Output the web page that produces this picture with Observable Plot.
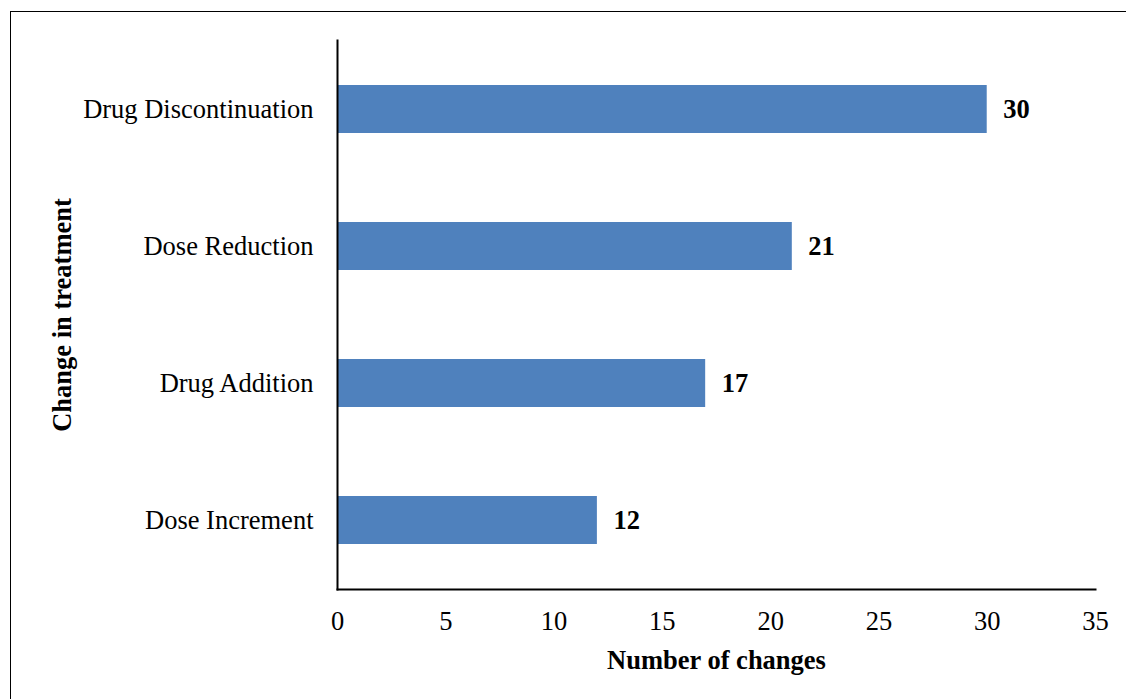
<!DOCTYPE html>
<html>
<head>
<meta charset="utf-8">
<script src="https://cdn.jsdelivr.net/npm/d3@7"></script>
<script src="https://cdn.jsdelivr.net/npm/@observablehq/plot@0.6"></script>
<style>
  html, body { margin: 0; padding: 0; background: #fff; }
  #wrap { position: relative; width: 1126px; height: 699px; overflow: hidden; }
  #edge { position: absolute; left: 10px; top: 11px; width: 1200px; height: 800px;
          border-left: 1.5px solid #000; border-top: 1.5px solid #000; box-sizing: border-box; pointer-events: none; }
  svg { font-family: "Liberation Serif", "Times New Roman", serif; }
</style>
</head>
<body>
<div id="wrap"><div id="edge"></div></div>
<script>
// Changes made to patients' treatment, by type
const categories = ["Drug Discontinuation", "Dose Reduction", "Drug Addition", "Dose Increment"];
const counts = [30, 21, 17, 12];
const xTicks = [0, 5, 10, 15, 20, 25, 30, 35];
const xTitle = "Number of changes";
const yTitle = "Change in treatment";

const rows = categories.map((c, i) => ({category: c, count: counts[i]}));
const FS = 26.5;

const chart = Plot.plot({
  width: 1126,
  height: 699,
  marginLeft: 337,
  marginRight: 31,
  marginTop: 40,
  marginBottom: 110,
  style: {fontFamily: "Liberation Serif, Times New Roman, serif", fontSize: FS + "px", color: "#000", background: "#fff"},
  x: {domain: [0, 35], ticks: xTicks, label: null},
  y: {domain: categories, paddingInner: 0.65, paddingOuter: 0.325, label: null},
  marks: [
    Plot.barX(rows, {x: "count", y: "category", fill: "#4F81BD"}),
    Plot.text(rows, {x: "count", y: "category", text: d => String(d.count), textAnchor: "start", dx: 16, fontWeight: "bold", fontSize: FS, fill: "#000"}),
    Plot.axisX({ticks: xTicks, tickSize: 0, tickPadding: 22, fontSize: FS, label: null}),
    Plot.axisY({tickSize: 0, tickPadding: 24, fontSize: FS, label: null}),
    Plot.frame({anchor: "left", stroke: "#000", strokeWidth: 2}),
    Plot.frame({anchor: "bottom", stroke: "#000", strokeWidth: 2}),
    Plot.text([xTitle], {frameAnchor: "bottom", dy: 71, textAnchor: "middle", lineAnchor: "middle", fontWeight: "bold", fontSize: FS, fill: "#000"}),
    Plot.text([yTitle], {frameAnchor: "left", dx: -275, rotate: -90, textAnchor: "middle", lineAnchor: "middle", fontWeight: "bold", fontSize: FS, fill: "#000"})
  ]
});
document.getElementById("wrap").prepend(chart);
</script>
</body>
</html>
